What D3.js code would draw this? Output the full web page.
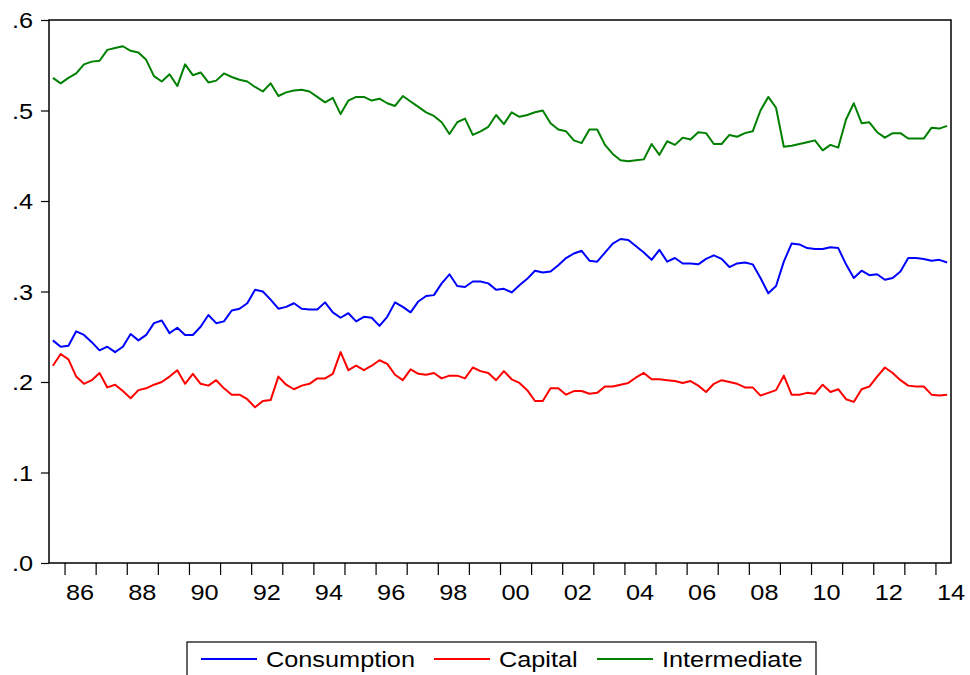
<!DOCTYPE html>
<html><head><meta charset="utf-8">
<script src="https://cdn.jsdelivr.net/npm/d3@7"></script>
<style>
html,body{margin:0;padding:0;background:#fff;}
svg{display:block;}
text{font-family:"Liberation Sans",Arial,sans-serif;fill:#000;}
</style></head>
<body>
<svg id="chart" width="970" height="675"></svg>
<script>
// ---- data (quarterly, 1985Q3 .. 2014Q2) ----
const startYear = 1985, startQuarter = 3;
const consumption = [0.246,0.239,0.240,0.256,0.252,0.244,0.235,0.239,0.233,0.239,0.253,0.246,0.252,0.265,0.268,0.254,0.260,0.252,0.252,0.261,
0.274,0.265,0.267,0.279,0.281,0.287,0.302,0.300,0.291,0.281,0.283,0.287,0.281,0.280,0.280,0.288,0.277,0.271,0.276,0.267,
0.272,0.271,0.262,0.272,0.288,0.283,0.277,0.289,0.295,0.296,0.309,0.319,0.306,0.305,0.311,0.311,0.309,0.302,0.303,0.299,
0.307,0.314,0.323,0.321,0.322,0.329,0.337,0.342,0.345,0.334,0.333,0.343,0.353,0.358,0.357,0.350,0.343,0.335,0.346,0.333,
0.337,0.331,0.331,0.330,0.336,0.340,0.336,0.327,0.331,0.332,0.330,0.315,0.298,0.306,0.333,0.353,0.352,0.348,0.347,0.347,
0.349,0.348,0.330,0.315,0.323,0.318,0.319,0.313,0.315,0.322,0.337,0.337,0.336,0.334,0.335,0.332];
const capital = [0.218,0.231,0.225,0.206,0.198,0.202,0.210,0.194,0.197,0.190,0.182,0.191,0.193,0.197,0.200,0.206,0.213,0.198,0.209,0.198,
0.196,0.202,0.193,0.186,0.186,0.181,0.172,0.179,0.180,0.206,0.197,0.192,0.196,0.198,0.204,0.204,0.209,0.233,0.213,0.218,
0.213,0.218,0.224,0.220,0.208,0.202,0.214,0.209,0.208,0.210,0.204,0.207,0.207,0.204,0.216,0.212,0.210,0.202,0.212,0.203,
0.199,0.191,0.179,0.179,0.193,0.193,0.186,0.190,0.190,0.187,0.188,0.195,0.195,0.197,0.199,0.205,0.210,0.203,0.203,0.202,
0.201,0.199,0.201,0.196,0.189,0.198,0.202,0.200,0.198,0.194,0.194,0.185,0.188,0.191,0.207,0.186,0.186,0.188,0.187,0.197,
0.189,0.192,0.181,0.178,0.192,0.195,0.206,0.216,0.210,0.202,0.196,0.195,0.195,0.186,0.185,0.186];
const intermediate = [0.536,0.530,0.536,0.541,0.551,0.554,0.555,0.567,0.569,0.571,0.566,0.564,0.556,0.538,0.532,0.540,0.527,0.551,0.539,0.542,
0.531,0.533,0.541,0.537,0.534,0.532,0.526,0.521,0.530,0.516,0.520,0.522,0.523,0.521,0.515,0.509,0.514,0.496,0.511,0.515,
0.515,0.511,0.513,0.508,0.505,0.516,0.510,0.504,0.498,0.494,0.487,0.474,0.487,0.491,0.473,0.477,0.482,0.495,0.485,0.498,
0.493,0.495,0.498,0.500,0.486,0.479,0.477,0.467,0.464,0.479,0.479,0.462,0.452,0.445,0.444,0.445,0.446,0.463,0.451,0.466,
0.462,0.470,0.468,0.476,0.475,0.463,0.463,0.473,0.471,0.475,0.477,0.500,0.515,0.503,0.460,0.461,0.463,0.465,0.467,0.456,
0.462,0.459,0.490,0.508,0.486,0.487,0.476,0.470,0.475,0.475,0.469,0.469,0.469,0.481,0.480,0.483];
const yTickValues = [0, 0.1, 0.2, 0.3, 0.4, 0.5, 0.6];
const yTickLabels = [".0", ".1", ".2", ".3", ".4", ".5", ".6"];
const xTickLabels = ["86","88","90","92","94","96","98","00","02","04","06","08","10","12","14"];
const seriesNames = ["Consumption", "Capital", "Intermediate"];
const seriesColors = ["#0000ff", "#ff0000", "#008000"];

// quarter categories
const quarters = consumption.map((_, i) => {
  const q = startQuarter - 1 + i;
  return (startYear + Math.floor(q / 4)) + "Q" + (q % 4 + 1);
});
const yearIndex = y => quarters.indexOf(y + "Q1"); // first quarter of year

// ---- layout ----
const svg = d3.select("#chart");
const L = 49, R = 951, T = 20, B = 563;
const SX = 1.15; // horizontal text stretch
const FS = 22;
const n = quarters.length;
const x = d3.scaleLinear().domain([-0.5, n - 0.5]).range([L, R]);
const y = d3.scaleLinear().domain([0, 0.6]).range([B, T]);

// frame
svg.append("rect").attr("x", L).attr("y", T).attr("width", R - L).attr("height", B - T)
  .attr("fill", "none").attr("stroke", "#000").attr("stroke-width", 1.5);

// y axis ticks + labels
const yAxis = d3.axisLeft(y).tickValues(yTickValues).tickSize(8).tickSizeOuter(0).tickFormat("");
const gy = svg.append("g").attr("transform", `translate(${L},0)`).call(yAxis);
gy.select(".domain").remove();
gy.selectAll("line").attr("stroke", "#000").attr("stroke-width", 1.2);
svg.append("g").selectAll("text").data(yTickValues).join("text")
  .attr("transform", d => `translate(33,${y(d) + 8}) scale(${SX},1)`)
  .attr("text-anchor", "end").attr("font-size", FS)
  .text((d, i) => yTickLabels[i]);

// x axis: year boundary ticks
const years = d3.range(1986, 2015);
const boundaries = years.map(yr => yearIndex(yr) - 0.5);
const xAxis = d3.axisBottom(x).tickValues(boundaries).tickSize(12).tickSizeOuter(0).tickFormat("");
const gx = svg.append("g").attr("transform", `translate(0,${B})`).call(xAxis);
gx.select(".domain").remove();
gx.selectAll("line").attr("stroke", "#000").attr("stroke-width", 1.2);
// labels at middle of even years
const labelYears = d3.range(1986, 2015, 2);
svg.append("g").selectAll("text").data(labelYears).join("text")
  .attr("transform", d => `translate(${x(yearIndex(d) + 1.5)},${600}) scale(${SX},1)`)
  .attr("text-anchor", "middle").attr("font-size", FS)
  .text((d, i) => xTickLabels[i]);

// series lines
const allSeries = [consumption, capital, intermediate];
const line = d3.line().x((d, i) => x(i)).y(d => y(d));
svg.append("g").selectAll("path").data(allSeries).join("path")
  .attr("d", d => line(d))
  .attr("fill", "none")
  .attr("stroke", (d, i) => seriesColors[i])
  .attr("stroke-width", 2)
  .attr("stroke-linejoin", "round");

// legend
const lg = svg.append("g");
lg.append("rect").attr("x", 187).attr("y", 642).attr("width", 629).attr("height", 45)
  .attr("fill", "#fff").attr("stroke", "#000").attr("stroke-width", 1.2);
const legendX = [201, 434, 597];
seriesNames.forEach((name, i) => {
  lg.append("line").attr("x1", legendX[i]).attr("x2", legendX[i] + 56)
    .attr("y1", 659).attr("y2", 659).attr("stroke", seriesColors[i]).attr("stroke-width", 2);
  lg.append("text").attr("transform", `translate(${legendX[i] + 65},${667}) scale(${SX},1)`)
    .attr("font-size", FS).text(name);
});
</script>
</body></html>
